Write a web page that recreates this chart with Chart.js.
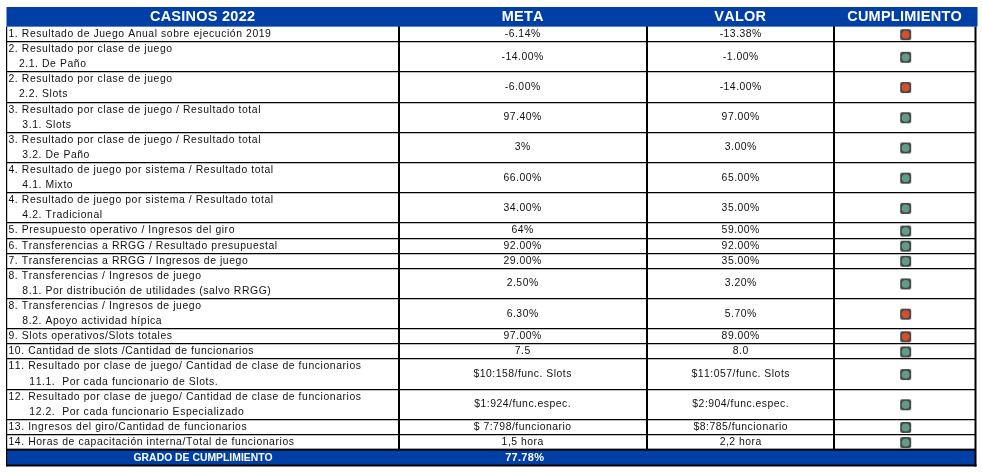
<!DOCTYPE html>
<html><head><meta charset="utf-8">
<style>html,body{margin:0;padding:0;background:#fff}canvas{display:block}</style>
<script src="https://cdn.jsdelivr.net/npm/chart.js@4"></script></head>
<body><canvas id="c" width="982" height="472"></canvas>
<script>
const headers = ["CASINOS 2022","META","VALOR","CUMPLIMIENTO"];
const categories = [
 ["1. Resultado de Juego Anual sobre ejecución 2019"],
 ["2. Resultado por clase de juego","   2.1. De Paño"],
 ["2. Resultado por clase de juego","   2.2. Slots"],
 ["3. Resultado por clase de juego / Resultado total","    3.1. Slots"],
 ["3. Resultado por clase de juego / Resultado total","    3.2. De Paño"],
 ["4. Resultado de juego por sistema / Resultado total","    4.1. Mixto"],
 ["4. Resultado de juego por sistema / Resultado total","    4.2. Tradicional"],
 ["5. Presupuesto operativo / Ingresos del giro"],
 ["6. Transferencias a RRGG / Resultado presupuestal"],
 ["7. Transferencias a RRGG / Ingresos de juego"],
 ["8. Transferencias / Ingresos de juego","    8.1. Por distribución de utilidades (salvo RRGG)"],
 ["8. Transferencias / Ingresos de juego","    8.2. Apoyo actividad hípica"],
 ["9. Slots operativos/Slots totales"],
 ["10. Cantidad de slots /Cantidad de funcionarios"],
 ["11. Resultado por clase de juego/ Cantidad de clase de funcionarios","      11.1.  Por cada funcionario de Slots."],
 ["12. Resultado por clase de juego/ Cantidad de clase de funcionarios","      12.2.  Por cada funcionario Especializado"],
 ["13. Ingresos del giro/Cantidad de funcionarios"],
 ["14. Horas de capacitación interna/Total de funcionarios"]
];
const metaValues = ["-6.14%","-14.00%","-6.00%","97.40%","3%","66.00%","34.00%","64%","92.00%","29.00%","2.50%","6.30%","97.00%","7.5","$10:158/func. Slots","$1:924/func.espec.","$ 7:798/funcionario","1,5 hora"];
const valorValues = ["-13.38%","-1.00%","-14.00%","97.00%","3.00%","65.00%","35.00%","59.00%","92.00%","35.00%","3.20%","5.70%","89.00%","8.0","$11:057/func. Slots","$2:904/func.espec.","$8:785/funcionario","2,2 hora"];
const cumplimiento = [0,1,0,1,1,1,1,1,1,1,1,0,0,1,1,1,1,1];
const footerLabel = "GRADO DE CUMPLIMIENTO";
const footerValue = "77.78%";

// layout in scale units (1 unit = one text line on y; px on x)
const colEdges = [0,393,641.5,829,971];
const headH = 1.3, footH = 1.05;
const rowTops = []; let yy = headH;
categories.forEach(c=>{rowTops.push(yy); yy += c.length;});
const bodyEnd = yy, yMax = yy + footH;
const rowMid = i => rowTops[i] + categories[i].length/2;
const colMid = k => (colEdges[k]+colEdges[k+1])/2;

const BLUE="#0040a6", RED="#d4502c", GREEN="#5f9c8a", DARK="#474747", FF='"Liberation Sans", Arial, sans-serif';
const lightData = cumplimiento.map((v,i)=>({x:colMid(3)+1, y:rowMid(i)+0.03}));

function frameSprite(){
 const s=document.createElement("canvas"); s.width=13; s.height=13;
 const g=s.getContext("2d"); g.fillStyle=DARK; g.beginPath(); g.roundRect(1,1,11,11,2); g.fill();
 return s;
}

const tablePlugin = {
 id:"table",
 beforeDatasetsDraw(ch){
  const {ctx,scales:{x,y}} = ch;
  const X=v=>x.getPixelForValue(v), Y=v=>y.getPixelForValue(v);
  const L=X(0), R=X(971);
  ctx.save();
  ctx.fillStyle=BLUE;
  ctx.fillRect(L,Y(0),R-L+2,Y(headH)-Y(0));
  ctx.fillRect(L,Y(bodyEnd),R-L,Y(yMax)-Y(bodyEnd));
  ctx.fillStyle="#000";
  ctx.fillRect(L,Y(bodyEnd)-1,R-L,2);
  ctx.fillRect(L,Y(yMax)-1,R-L+1,2);
  ctx.fillRect(L-0.5,Y(headH),1.2,Y(yMax)-Y(headH)+1);
  ctx.fillRect(R-1,Y(headH),2,Y(yMax)-Y(headH)+1);
  ctx.textBaseline="middle"; ctx.fontKerning="none";
  // header
  ctx.fillStyle="#fff"; ctx.textAlign="center";
  ctx.font="bold 14.5px "+FF; ctx.letterSpacing="0.25px";
  headers.forEach((h,k)=>ctx.fillText(h,X(colMid(k)),Y(headH/2)+0.5));
  // footer
  const fy=Y(bodyEnd+footH/2)+0.5;
  ctx.font="bold 10.4px "+FF; ctx.letterSpacing="0px";
  ctx.fillText(footerLabel,X(colMid(0))+0.5,fy);
  ctx.font="bold 11px "+FF; ctx.letterSpacing="0.3px";
  ctx.fillText(footerValue,X(colMid(1))+2,fy);
  // body
  ctx.fillStyle="#111"; ctx.font="10.4px "+FF;
  categories.forEach((lines,i)=>{
   ctx.textAlign="left"; ctx.letterSpacing="0.58px";
   lines.forEach((t,n)=>ctx.fillText(t,X(0)+2,Y(rowTops[i]+n+0.5)));
   ctx.textAlign="center"; ctx.letterSpacing="0.5px";
   ctx.fillText(metaValues[i],X(colMid(1)),Y(rowMid(i)));
   ctx.fillText(valorValues[i],X(colMid(2))+0.5,Y(rowMid(i)));
  });
  ctx.restore();
 }
};

new Chart(document.getElementById("c"),{
 type:"scatter",
 data:{datasets:[
  {label:"marco",data:lightData,pointStyle:frameSprite(),radius:6.5,borderWidth:0,order:2},
  {label:"cumplimiento",data:lightData,pointStyle:"circle",radius:3.9,hoverRadius:3.9,borderWidth:0,
   backgroundColor:cumplimiento.map(v=>v?GREEN:RED),order:1}
 ]},
 plugins:[tablePlugin],
 options:{
  responsive:false,animation:false,devicePixelRatio:1,
  layout:{padding:{left:6,right:5,top:7,bottom:6}},
  plugins:{legend:{display:false},title:{display:false},tooltip:{enabled:false}},
  scales:{
   x:{type:"linear",min:0,max:971,
    afterBuildTicks:s=>{s.ticks=colEdges.slice(1,4).map(v=>({value:v}));},
    ticks:{display:false},border:{display:false},
    grid:{color:"#000",lineWidth:2,drawTicks:false,tickLength:0}},
   y:{type:"linear",min:0,max:yMax,reverse:true,
    afterBuildTicks:s=>{s.ticks=rowTops.slice(1).map(v=>({value:v}));},
    ticks:{display:false},border:{display:false},
    grid:{color:"#000",lineWidth:1.2,drawTicks:false,tickLength:0}}
  }
 }
});
</script></body></html>
